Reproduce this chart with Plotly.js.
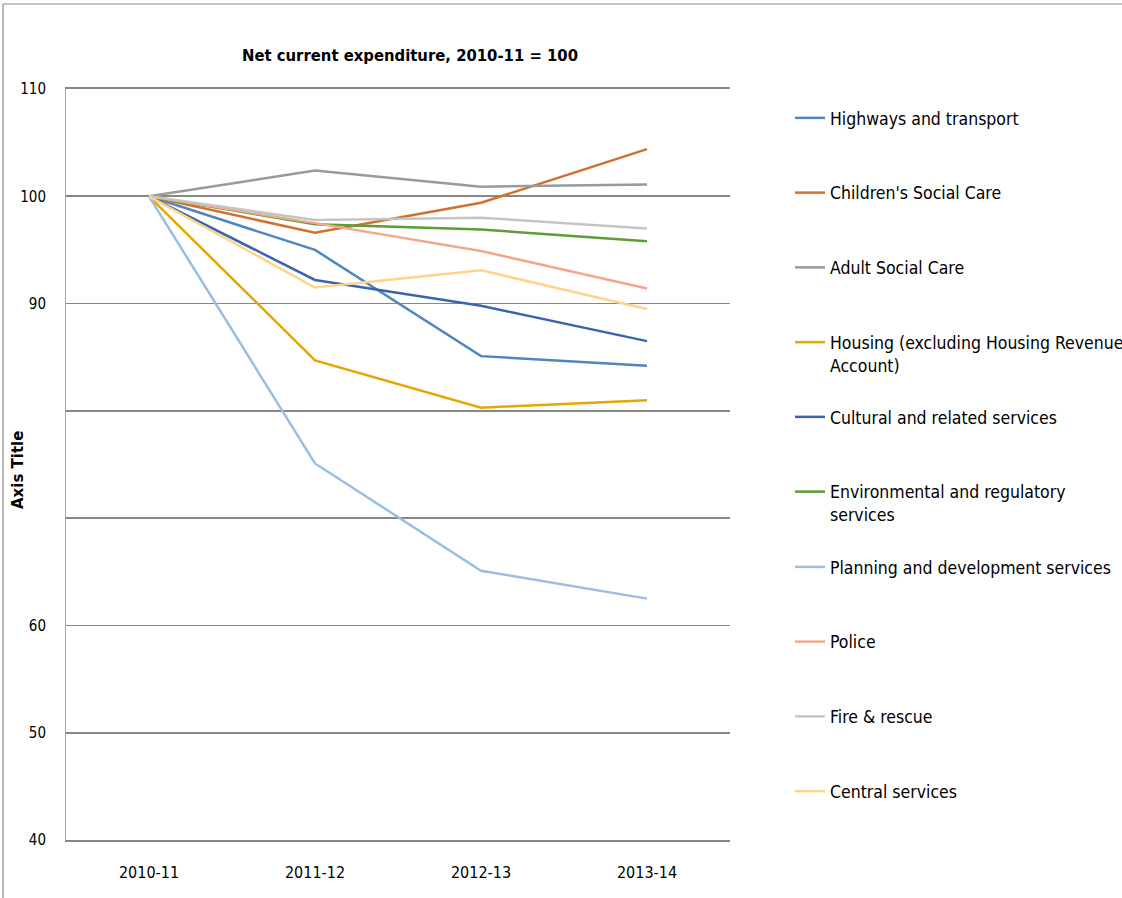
<!DOCTYPE html>
<html>
<head>
<meta charset="utf-8">
<script src="https://cdn.plot.ly/plotly-3.0.1.min.js"></script>
<style>html,body{margin:0;padding:0;background:#fff;}#chart{width:1122px;height:898px;}</style>
</head>
<body>
<div id="chart"></div>
<script>
const years = ["2010-11", "2011-12", "2012-13", "2013-14"];

const highways      = [100, 95.0, 85.1, 84.2];
const childrens     = [100, 96.6, 99.4, 104.4];
const adultCare     = [100, 102.4, 100.9, 101.1];
const housing       = [100, 84.7, 80.3, 81.0];
const cultural      = [100, 92.2, 89.8, 86.5];
const environmental = [100, 97.4, 96.9, 95.8];
const planning      = [100, 75.1, 65.1, 62.5];
const police        = [100, 97.5, 94.9, 91.4];
const fireRescue    = [100, 97.8, 98.0, 97.0];
const central       = [100, 91.5, 93.1, 89.5];

const yTickVals = [40, 50, 60, 70, 80, 90, 100, 110];
const yTickText = ["40", "50", "60", "", "", "90", "100", "110"];

const series = [
  {name: "Highways and transport", y: highways, color: "#4E87BF", legend: "legend"},
  {name: "Children's Social Care", y: childrens, color: "#D2702D", legend: "legend"},
  {name: "Adult Social Care", y: adultCare, color: "#9A9A9A", legend: "legend"},
  {name: "Housing (excluding Housing Revenue<br>Account)", y: housing, color: "#E3A800", legend: "legend"},
  {name: "Cultural and related services", y: cultural, color: "#3B64B0", legend: "legend2"},
  {name: "Environmental and regulatory<br>services", y: environmental, color: "#5E9C3A", legend: "legend2"},
  {name: "Planning and development services", y: planning, color: "#9BBCE4", legend: "legend3"},
  {name: "Police", y: police, color: "#F2A88C", legend: "legend3"},
  {name: "Fire & rescue", y: fireRescue, color: "#C4C4C4", legend: "legend3"},
  {name: "Central services", y: central, color: "#FFD48A", legend: "legend3"}
];

const FONT = "'DejaVu Sans Condensed', 'Liberation Sans Narrow', 'Arial Narrow', sans-serif";

const traces = series.map((s, i) => ({
  type: "scatter",
  mode: "lines",
  x: years,
  y: s.y,
  name: s.name,
  legend: s.legend,
  legendgroup: "g" + i,
  line: {color: s.color, width: 2.5},
  hoverinfo: "x+y+name"
}));

function legendAt(topPx) {
  return {
    xref: "container", yref: "container",
    x: 790 / 1122, y: 1 - topPx / 898,
    xanchor: "left", yanchor: "top",
    bgcolor: "rgba(0,0,0,0)",
    borderwidth: 0,
    font: {family: FONT, size: 17.5, color: "#000"},
    traceorder: "grouped",
    tracegroupgap: 49,
    itemwidth: 30,
    valign: "top"
  };
}

const layout = {
  width: 1122, height: 898,
  margin: {l: 66, r: 392, t: 89, b: 58},
  paper_bgcolor: "#fff",
  plot_bgcolor: "#fff",
  showlegend: true,
  title: {
    text: "<b>Net current expenditure, 2010-11 = 100</b>",
    font: {family: FONT, size: 16.5, color: "#000"},
    xref: "container", yref: "container",
    x: 410 / 1122, y: 1 - 55 / 898,
    xanchor: "center", yanchor: "middle"
  },
  xaxis: {
    type: "category",
    range: [-0.5, 3.5],
    showgrid: false,
    showline: true,
    mirror: true,
    linecolor: "#878787",
    linewidth: 1.6,
    zeroline: false,
    ticks: "",
    ticklabelstandoff: 17,
    tickfont: {family: FONT, size: 16, color: "#000"},
    fixedrange: true
  },
  yaxis: {
    range: [40, 110],
    tickvals: yTickVals,
    ticktext: yTickText,
    showgrid: true,
    gridcolor: "#878787",
    gridwidth: 1.6,
    zeroline: false,
    showline: true,
    linecolor: "#a6a6a6",
    linewidth: 1,
    ticks: "",
    ticklabelstandoff: 16,
    tickfont: {family: FONT, size: 15, color: "#000"},
    fixedrange: true
  },
  legend: legendAt(100),
  legend2: legendAt(399),
  legend3: legendAt(549),
  annotations: [
    {
      text: "<b>Axis Title</b>",
      xref: "paper", yref: "paper",
      x: (18 - 66) / 664, y: (840 - 470) / 751,
      xanchor: "center", yanchor: "middle",
      textangle: -90, showarrow: false,
      font: {family: "'DejaVu Sans', sans-serif", size: 15, color: "#000"}
    }
  ],
  shapes: [
    {type: "line", xref: "paper", yref: "paper",
     x0: (3 - 66) / 664, x1: (3 - 66) / 664, y0: (840 - 4) / 751, y1: (840 - 898) / 751,
     line: {color: "#8c8c8c", width: 1.2}},
    {type: "line", xref: "paper", yref: "paper",
     x0: (3 - 66) / 664, x1: (1122 - 66) / 664, y0: (840 - 4) / 751, y1: (840 - 4) / 751,
     line: {color: "#8c8c8c", width: 1.2}}
  ]
};

Plotly.newPlot("chart", traces, layout, {displayModeBar: false, staticPlot: true});
</script>
</body>
</html>
